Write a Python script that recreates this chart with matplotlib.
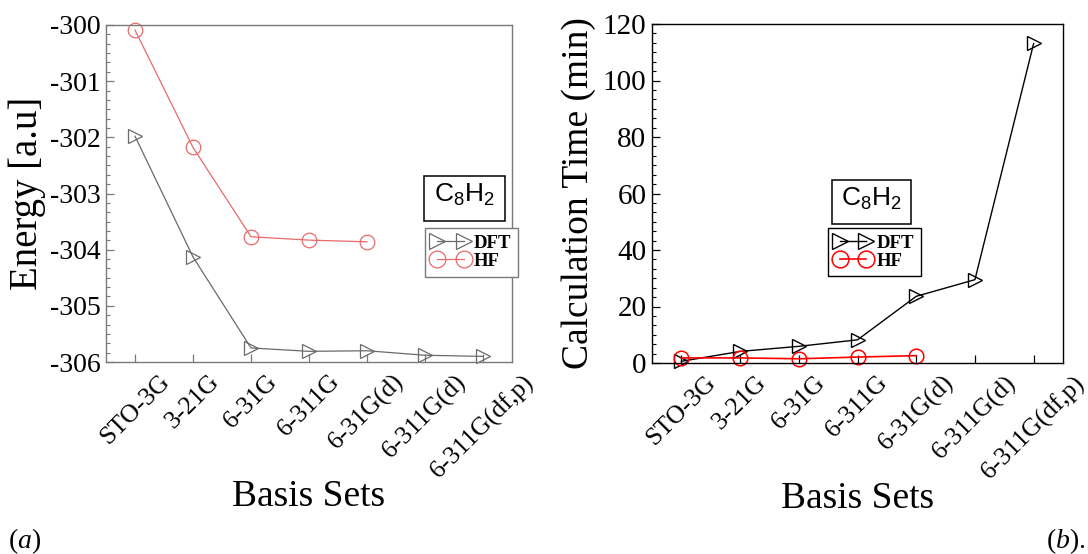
import matplotlib
matplotlib.use("Agg")
import matplotlib.pyplot as plt
from matplotlib.patches import Rectangle
from matplotlib.ticker import AutoMinorLocator, MultipleLocator, FormatStrFormatter

basis_sets = ["STO-3G", "3-21G", "6-31G", "6-311G", "6-31G(d)", "6-311G(d)", "6-311G(df,p)"]

energy_dft = [-301.98, -304.13, -305.75, -305.81, -305.80, -305.88, -305.90]
energy_hf = [-300.09, -302.18, -303.77, -303.83, -303.86]

time_dft = [0.6, 4.1, 5.9, 8.2, 23.6, 29.5, 113.1]
time_hf = [1.8, 1.8, 1.5, 2.1, 2.6]

plt.rcParams["font.family"] = ["Liberation Serif", "DejaVu Serif"]
plt.rcParams["axes.unicode_minus"] = False
plt.rcParams["mathtext.fontset"] = "custom"
plt.rcParams["mathtext.rm"] = "Liberation Serif"
plt.rcParams["mathtext.it"] = "Liberation Serif:italic"

fig = plt.figure(figsize=(10.88, 5.54), dpi=100)

W, H = 1088, 554


def axes_px(x0, x1, y0, y1):
    return fig.add_axes([x0 / W, 1 - y1 / H, (x1 - x0) / W, (y1 - y0) / H])


def style_axes(ax, fcol, tickfs):
    for side in ["left", "right", "top", "bottom"]:
        ax.spines[side].set_color(fcol)
        ax.spines[side].set_linewidth(1.0)
    ax.tick_params(axis="both", which="both", direction="in", top=False, right=False, colors=fcol,
                   labelcolor="black")
    ax.tick_params(axis="y", which="major", length=6, width=0.9, labelsize=tickfs, pad=4)
    ax.tick_params(axis="y", which="minor", length=3, width=0.8)
    ax.tick_params(axis="x", which="major", length=6, width=0.9, labelsize=18.5, pad=6)
    ax.tick_params(axis="x", which="minor", length=0)
    ax.yaxis.set_minor_locator(AutoMinorLocator(6))
    x = list(range(len(basis_sets)))
    ax.set_xticks(x)
    ax.set_xticklabels(basis_sets, rotation=45, ha="center")
    ax.set_xlim(-0.5, 6.5)
    ax.set_xlabel("Basis Sets", fontsize=27, va="center")
    ax.xaxis.set_label_coords(0.5, -0.40)


def c8h2_box(ax, x, y, w, h, ec):
    ax.add_patch(Rectangle((x, y), w, h, transform=ax.transAxes, fill=True, fc="white",
                           ec=ec, lw=1.1, clip_on=False, zorder=5))
    ax.text(x + w / 2, y + h / 2 + 0.01, r"$\mathregular{C_8H_2}$", transform=ax.transAxes,
            ha="center", va="center", fontsize=19, family=["Liberation Sans", "DejaVu Sans"],
            zorder=6)


leg_kw = dict(loc="upper left", borderaxespad=0,
              prop={"family": "Liberation Serif", "size": 13.5, "weight": "bold"},
              numpoints=2, handlelength=2.0, handletextpad=0.25, borderpad=0.35,
              labelspacing=0.05, fancybox=False, framealpha=1, markerscale=1.15)

# ---------- panel (a) ----------
ax1 = axes_px(106, 512, 25, 362)
gray = "#7a7a7a"
style_axes(ax1, gray, 20)
xs = list(range(len(basis_sets)))
ax1.plot(xs, energy_dft, color="#6a6a6a", lw=0.9, marker=">", ms=10, mfc="none", mec="#6a6a6a",
         mew=0.9, clip_on=False, label="DFT")
ax1.plot(xs[:len(energy_hf)], energy_hf, color="#e86a6a", lw=0.9, marker="o", ms=10.5, mfc="none",
         mec="#e86a6a", mew=0.9, clip_on=False, label="HF")
ax1.set_ylim(-306, -300)
ax1.yaxis.set_major_locator(MultipleLocator(1))
ax1.yaxis.set_major_formatter(FormatStrFormatter("%d"))
ax1.set_ylabel("Energy [a.u]", fontsize=28, labelpad=3)
c8h2_box(ax1, 0.783, 0.418, 0.1995, 0.1335, "black")
leg1 = ax1.legend(bbox_to_anchor=(0.786, 0.397), **leg_kw)
leg1.get_frame().set_edgecolor(gray)
leg1.get_frame().set_linewidth(1.0)

# ---------- panel (b) ----------
ax2 = axes_px(652, 1063, 24, 363)
style_axes(ax2, "black", 21)
ax2.plot(xs, time_dft, color="black", lw=1.0, marker=">", ms=10.5, mfc="none", mec="black",
         mew=1.0, clip_on=False, label="DFT")
ax2.plot(xs[:len(time_hf)], time_hf, color="red", lw=1.2, marker="o", ms=10.5, mfc="none",
         mec="red", mew=1.1, clip_on=False, label="HF")
ax2.set_ylim(0, 120)
ax2.yaxis.set_major_locator(MultipleLocator(20))
ax2.set_ylabel("Calculation Time (min)", fontsize=27, labelpad=5)
c8h2_box(ax2, 0.438, 0.410, 0.192, 0.130, "black")
leg2 = ax2.legend(bbox_to_anchor=(0.428, 0.398), **leg_kw)
leg2.get_frame().set_edgecolor("black")
leg2.get_frame().set_linewidth(1.0)

fig.text(8 / W, 1 - 541 / H, r"$(a)$", fontsize=20, ha="left", va="center")
fig.text(1085 / W, 1 - 541 / H, r"$(b).$", fontsize=20, ha="right", va="center")

fig.savefig("out.png", dpi=100)
